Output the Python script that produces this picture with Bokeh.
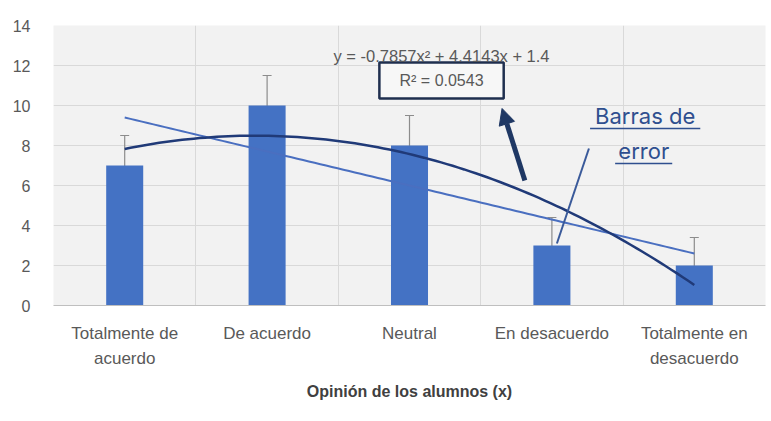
import numpy as np
from bokeh.plotting import figure
from bokeh.models import (ColumnDataSource, FixedTicker, Whisker, Label, Arrow,
                          NormalHead, Range1d)
from bokeh.embed import file_html
from bokeh.resources import INLINE

categories = ["Totalmente de\nacuerdo", "De acuerdo", "Neutral", "En desacuerdo", "Totalmente en\ndesacuerdo"]
positions = [1, 2, 3, 4, 5]
values = [7, 10, 8, 3, 2]
errors = [1.5, 1.5, 1.5, 1.4, 1.4]
y_ticks = [0, 2, 4, 6, 8, 10, 12, 14]
equation_text = "y = -0.7857x² + 4.4143x + 1.4"
r2_text = "R² = 0.0543"
x_title = "Opinión de los alumnos (x)"

FONT = "Liberation Sans"
GRAY = "#595959"

p = figure(width=771, height=421, output_backend="svg", toolbar_location=None,
           x_range=Range1d(0.5, 5.5), y_range=Range1d(0, 14),
           min_border_left=53, min_border_right=6, min_border_top=25, min_border_bottom=116)
p.background_fill_color = "#f2f2f2"
p.border_fill_color = "white"
p.outline_line_color = None

src = ColumnDataSource(dict(x=positions, top=values,
                            upper=[v + e for v, e in zip(values, errors)],
                            lower=[v - e for v, e in zip(values, errors)]))
p.vbar(x="x", top="top", width=0.26, source=src, fill_color="#4472C4", line_color=None)

wh = Whisker(base="x", upper="upper", lower="lower", source=src,
             line_color="#8c8c8c", line_width=1.2)
wh.upper_head.size = 9
wh.lower_head.size = 9
wh.upper_head.line_color = "#8c8c8c"
wh.lower_head.line_color = "#8c8c8c"
wh.lower_head.line_alpha = 0.4
p.add_layout(wh)

# trend lines fitted from data
xs = np.linspace(1, 5, 100)
lin = np.polyfit(positions, values, 1)
quad = np.polyfit(positions, values, 2)
p.line(xs, np.polyval(lin, xs), line_color="#4a6fc0", line_width=2)
p.line(xs, np.polyval(quad, xs), line_color="#203a78", line_width=2.5)

# axes
p.xaxis.ticker = FixedTicker(ticks=positions)
p.xaxis.major_label_overrides = {pos: c for pos, c in zip(positions, categories)}
p.xaxis.major_tick_line_color = None
p.xaxis.minor_tick_line_color = None
p.xaxis.axis_line_color = "#bfbfbf"
p.xaxis.major_label_text_font = FONT
p.xaxis.major_label_text_font_size = "17px"
p.xaxis.major_label_text_line_height = 1.35
p.xaxis.major_label_text_color = GRAY
p.xaxis.major_label_standoff = 12
p.xaxis.axis_label = x_title
p.xaxis.axis_label_text_font = FONT
p.xaxis.axis_label_text_font_size = "16px"
p.xaxis.axis_label_text_font_style = "bold"
p.xaxis.axis_label_text_color = "#404040"
p.xaxis.axis_label_standoff = 12

p.yaxis.ticker = FixedTicker(ticks=y_ticks)
p.yaxis.axis_line_color = None
p.yaxis.major_tick_line_color = None
p.yaxis.minor_tick_line_color = None
p.yaxis.major_label_text_font = FONT
p.yaxis.major_label_text_font_size = "16px"
p.yaxis.major_label_text_color = GRAY
p.yaxis.major_label_standoff = 17

p.xgrid.ticker = FixedTicker(ticks=[0.5, 1.5, 2.5, 3.5, 4.5, 5.5])
p.xgrid.grid_line_color = "#d9d9d9"
p.ygrid.grid_line_color = "#d9d9d9"

# annotations
p.add_layout(Label(x=3.225, y=12.5, text=equation_text, text_align="center",
                   text_baseline="middle", text_font=FONT, text_font_size="16.5px",
                   text_color=GRAY))
p.rect(x=[3.225], y=[11.25], width=0.873, height=1.8, fill_color="#f7f7f7",
       line_color="#1f2f4f", line_width=2.5)
p.add_layout(Label(x=3.225, y=11.25, text=r2_text, text_align="center",
                   text_baseline="middle", text_font=FONT, text_font_size="16px",
                   text_color=GRAY))

p.add_layout(Arrow(x_start=3.81, y_start=6.25, x_end=3.65, y_end=9.85,
                   line_color="#1f3864", line_width=5,
                   end=NormalHead(size=16, fill_color="#1f3864", line_color="#1f3864")))
p.segment(x0=[4.26], y0=[7.85], x1=[4.035], y1=[3.1], line_color="#3a5a9a", line_width=2)

BLUE = "#2f4f8f"
p.add_layout(Label(x=4.655, y=9.5, text="Barras de", text_align="center",
                   text_baseline="middle", text_font="Inter", text_font_size="22px",
                   text_color=BLUE))
p.add_layout(Label(x=4.645, y=7.72, text="error", text_align="center",
                   text_baseline="middle", text_font="Inter", text_font_size="22px",
                   text_color=BLUE))
p.segment(x0=[4.268, 4.444], y0=[8.85, 7.1], x1=[5.042, 4.845], y1=[8.85, 7.1],
          line_color=BLUE, line_width=1.5)

open("out.html", "w").write(file_html(p, INLINE))
